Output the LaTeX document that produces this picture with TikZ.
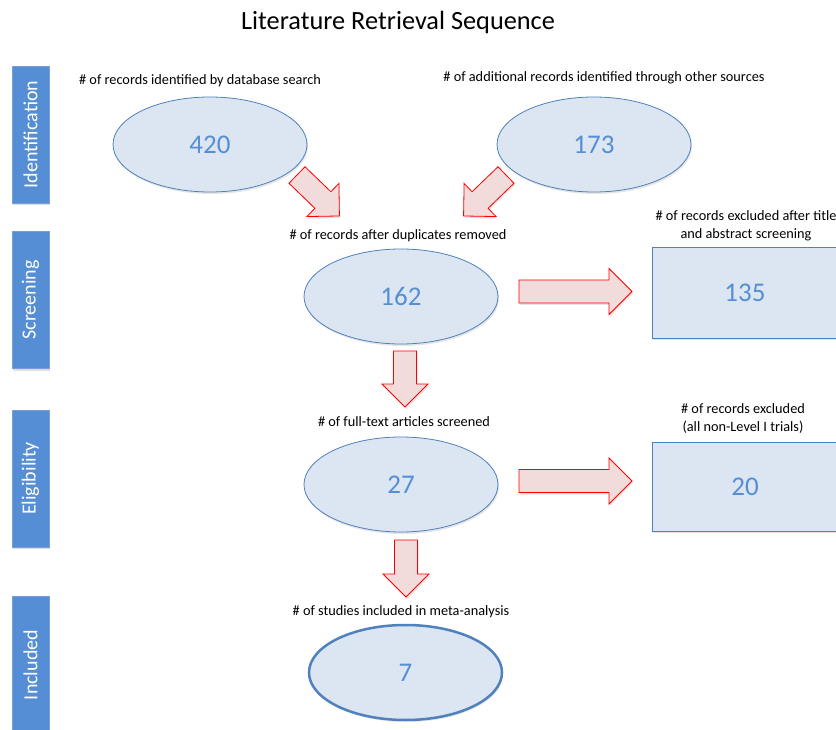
\documentclass[tikz,border=0pt]{standalone}
\usepackage{fontspec}
\setmainfont{Carlito}
\usetikzlibrary{shapes.geometric,shadows}
\definecolor{barblue}{RGB}{85,142,213}
\definecolor{barline}{RGB}{120,160,215}
\definecolor{ellfill}{RGB}{220,230,242}
\definecolor{ellline}{RGB}{79,129,189}
\definecolor{numblue}{RGB}{85,142,213}
\definecolor{arrfill}{RGB}{242,220,219}
\tikzset{
  sidebar/.style={rectangle, rotate=90, minimum width=137pt, minimum height=37pt, inner sep=0pt,
    fill=barblue, draw=barline, line width=0.6pt, text=white, font=\fontsize{20}{24}\selectfont,
    drop shadow={shadow xshift=1pt, shadow yshift=-2pt, opacity=0.25}},
  countell/.style={ellipse, minimum width=194pt, minimum height=95pt, inner sep=0pt,
    fill=ellfill, draw=ellline, line width=0.8pt, text=numblue, font=\fontsize{27}{30}\selectfont,
    drop shadow={shadow xshift=1pt, shadow yshift=-2pt, opacity=0.2}},
  countbox/.style={rectangle, inner sep=0pt, fill=ellfill, draw=ellline, line width=0.8pt,
    text=numblue, font=\fontsize{27}{30}\selectfont,
    drop shadow={shadow xshift=1pt, shadow yshift=-2pt, opacity=0.2}},
  caption/.style={inner sep=0pt, align=center, font=\fontsize{14.3}{18}\selectfont},
  blockarrow/.style={fill=arrfill, draw=red, line width=0.8pt, line join=miter,
    drop shadow={shadow xshift=1pt, shadow yshift=-2pt, opacity=0.2}}
}
\newcommand{\blkarrow}[3]{%
  \begin{scope}[shift={#1}, rotate=#2]
    \path[blockarrow] (0,-11.5) -- (#3-23,-11.5) -- (#3-23,-23) -- (#3,0) -- (#3-23,23) -- (#3-23,11.5) -- (0,11.5) -- cycle;
  \end{scope}}
\begin{document}
\begin{tikzpicture}[x=1pt, y=-1pt]
  \useasboundingbox (0,0) rectangle (836,730);
  \clip (0,0) rectangle (836,730);
  \fill[white] (0,0) rectangle (836,730);

  % title
  \node[inner sep=0pt, font=\fontsize{26.3}{30}\selectfont] (title) at (398,22) {Literature Retrieval Sequence};

  % side bars
  \node[sidebar] (sid) at (30.5,134.5) {Identification};
  \node[sidebar] (sscr) at (30.5,300) {Screening};
  \node[sidebar] (selig) at (30.5,478.5) {Eligibility};
  \node[sidebar, minimum width=138pt] (sinc) at (30.5,665) {Included};

  % captions
  \node[caption] (c420) at (200,81) {\# of records identified by database search};
  \node[caption] (c173) at (604,78) {\# of additional records identified through other sources};
  \node[caption] (c162) at (398,236) {\# of records after duplicates removed};
  \node[caption] (c135) at (746,226) {\# of records excluded after title\\and abstract screening};
  \node[caption] (c27) at (404,422) {\# of full-text articles screened};
  \node[caption] (c20) at (743,419) {\# of records excluded\\(all non-Level I trials)};
  \node[caption] (c7) at (401,612) {\# of studies included in meta-analysis};

  % ellipses
  \node[countell] (e420) at (210,144.5) {420};
  \node[countell] (e173) at (594,144.5) {173};
  \node[countell] (e162) at (401,296.5) {162};
  \node[countell] (e27) at (401,484.5) {27};
  \node[countell, minimum width=193pt, line width=2.5pt] (e7) at (405.5,672.5) {7};

  % boxes (extend beyond right edge)
  \node[countbox, minimum width=208pt, minimum height=91pt] (b135) at (756,292.5) {135\kern22pt};
  \node[countbox, minimum width=208pt, minimum height=89pt] (b20) at (756,486.5) {20\kern22pt};

  % block arrows
  \blkarrow{(297,175)}{-44}{59}
  \blkarrow{(506,175)}{-136}{59}
  \blkarrow{(519,291.5)}{0}{113}
  \blkarrow{(519,481)}{0}{113}
  \blkarrow{(405,351)}{-90}{56}
  \blkarrow{(406,540)}{-90}{57}
\end{tikzpicture}
\end{document}
